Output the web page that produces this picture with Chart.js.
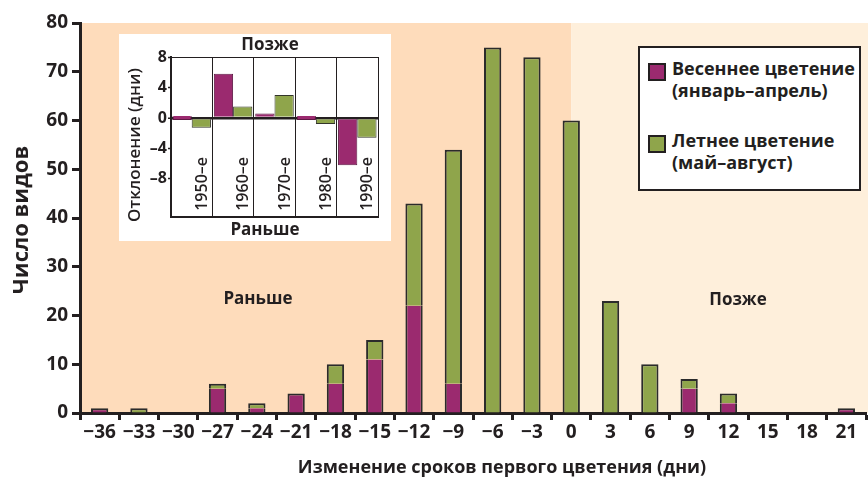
<!DOCTYPE html>
<html>
<head>
<meta charset="utf-8">
<script src="https://cdn.jsdelivr.net/npm/chart.js@4"></script>
<style>
  body { margin: 0; background: #fff; }
  #wrap { position: relative; width: 868px; height: 478px; }
  #mainChart { position: absolute; left: 0; top: 0; }
  #insetBox { position: absolute; left: 119px; top: 34px; width: 272px; height: 207px; background: #fff; }
  #legendBox {
    position: absolute; left: 638px; top: 46px; width: 219px; height: 141px;
    border: 2px solid #231f20; background: #fff;
    font-family: 'Open Sans', sans-serif; font-weight: 700; font-size: 18px; color: #231f20;
  }
  .item { position: absolute; left: 8px; }
  .sw { position: absolute; left: 0; top: 0; width: 14px; height: 14px; border: 2px solid #231f20; }
  .txt { position: absolute; left: 24px; top: -6px; line-height: 22px; white-space: nowrap; }
</style>
</head>
<body>
<div id="wrap">
  <canvas id="mainChart" width="868" height="478"></canvas>
  <div id="insetBox"><canvas id="insetChart" width="272" height="207"></canvas></div>
  <div id="legendBox"></div>
</div>
<script>
// main histogram
const shiftLabels = ['−36', '−33', '−30', '−27', '−24', '−21', '−18', '−15', '−12', '−9', '−6', '−3', '0', '3', '6', '9', '12', '15', '18', '21'];
const springCounts = [1, 0, 0, 5, 1, 4, 6, 11, 22, 6, 0, 0, 0, 0, 0, 5, 2, 0, 0, 1];
const summerCounts = [0, 1, 0, 1, 1, 0, 4, 4, 21, 48, 75, 73, 60, 23, 10, 2, 2, 0, 0, 0];
const seriesNames = ['Весеннее цветение', 'Летнее цветение'];
const seriesMonths = ['(январь–апрель)', '(май–август)'];

// inset: deviation by decade
const decades = ['1950–е', '1960–е', '1970–е', '1980–е', '1990–е'];
const springDev = [0, 5.8, 0.6, 0, -6.2];
const summerDev = [-1.3, 1.5, 3.0, -0.8, -2.6];

const purple = '#9b2a6f';
const green = '#8fa54b';
const ink = '#231f20';
const font = "'Open Sans', sans-serif";

let legendBox = document.getElementById('legendBox');
let colors = [purple, green];
let tops = [15, 87];
for (let i = 0; i < seriesNames.length; i++) {
  legendBox.innerHTML += `<div class="item" style="top:${tops[i]}px"><div class="sw" style="background:${colors[i]}"></div>` +
    `<div class="txt">${seriesNames[i]}<br>${seriesMonths[i]}</div></div>`;
}

const mainDecor = {
  id: 'mainDecor',
  beforeDraw(chart) {
    const { ctx, chartArea: a, scales } = chart;
    const xZero = scales.x.getPixelForValue(shiftLabels.indexOf('0'));
    ctx.save();
    ctx.fillStyle = '#fedcbb';
    ctx.fillRect(a.left, a.top, xZero - a.left, a.bottom - a.top);
    ctx.fillStyle = '#feefdb';
    ctx.fillRect(xZero, a.top, chart.width - xZero, a.bottom - a.top);
    ctx.restore();
  },
  afterDraw(chart) {
    const ctx = chart.ctx;
    ctx.save();
    ctx.fillStyle = ink;
    ctx.textAlign = 'center';
    ctx.textBaseline = 'middle';
    ctx.font = `bold 17px ${font}`;
    ctx.fillText('Раньше', 258, 299);
    ctx.fillText('Позже', 738, 300);
    ctx.font = `bold 18px ${font}`;
    ctx.fillText('Изменение сроков первого цветения (дни)', 502, 468);
    ctx.font = `bold 22px ${font}`;
    ctx.translate(22, 220);
    ctx.rotate(-Math.PI / 2);
    ctx.fillText('Число видов', 0, 0);
    ctx.restore();
  }
};

let mainChart = new Chart(document.getElementById('mainChart').getContext('2d'), {
  type: 'bar',
  data: {
    labels: shiftLabels,
    datasets: [{
      label: seriesNames[0],
      data: springCounts,
      backgroundColor: purple,
      borderColor: '#2b2b2b',
      borderSkipped: false,
      borderWidth: (c) => ({ left: 2, right: 2, bottom: 0, top: summerCounts[c.dataIndex] > 0 ? 0 : 2 })
    }, {
      label: seriesNames[1],
      data: summerCounts,
      backgroundColor: green,
      borderColor: '#2b2b2b',
      borderSkipped: false,
      borderWidth: { left: 2, right: 2, bottom: 0, top: 2 }
    }]
  },
  options: {
    responsive: false,
    animation: false,
    layout: { padding: { top: 23, right: 2, left: 0, bottom: 0 } },
    datasets: { bar: { barPercentage: 0.44, categoryPercentage: 1 } },
    plugins: { legend: { display: false }, tooltip: { enabled: false } },
    scales: {
      x: {
        stacked: true,
        afterFit(scale) { scale.height = 65; },
        border: { display: true, color: ink, width: 3 },
        grid: { offset: true, drawOnChartArea: false, tickLength: 7, tickWidth: 3, tickColor: ink },
        ticks: { color: ink, font: { family: font, weight: 'bold', size: 19 }, padding: 1, maxRotation: 0, autoSkip: false }
      },
      y: {
        stacked: true,
        min: 0,
        max: 80,
        afterFit(scale) { scale.width = 80; },
        border: { display: true, color: ink, width: 3 },
        grid: { drawOnChartArea: false, tickLength: 8, tickWidth: 3, tickColor: ink },
        ticks: { stepSize: 10, color: ink, font: { family: font, weight: 'bold', size: 19 }, padding: 4 }
      }
    }
  },
  plugins: [mainDecor]
});

const insetDecor = {
  id: 'insetDecor',
  afterDraw(chart) {
    const ctx = chart.ctx;
    const meta = chart.getDatasetMeta(1);
    ctx.save();
    ctx.fillStyle = ink;
    ctx.textAlign = 'center';
    ctx.textBaseline = 'middle';
    ctx.font = `bold 17px ${font}`;
    ctx.fillText('Позже', 151, 11);
    ctx.fillText('Раньше', 146, 196);
    ctx.font = `600 17px ${font}`;
    ctx.save();
    ctx.translate(16, 111);
    ctx.rotate(-Math.PI / 2);
    ctx.fillText('Отклонение (дни)', 0, 0);
    ctx.restore();
    ctx.font = `600 16px ${font}`;
    ctx.textAlign = 'right';
    meta.data.forEach((bar, i) => {
      ctx.save();
      ctx.translate(bar.x + 1, 123);
      ctx.rotate(-Math.PI / 2);
      ctx.fillText(decades[i], 0, 0);
      ctx.restore();
    });
    ctx.restore();
  }
};

let insetChart = new Chart(document.getElementById('insetChart').getContext('2d'), {
  type: 'bar',
  data: {
    labels: decades,
    datasets: [{
      data: springDev,
      backgroundColor: purple,
      borderColor: '#5e1a44',
      borderWidth: 1,
      minBarLength: 4
    }, {
      data: summerDev,
      backgroundColor: green,
      borderColor: '#33352a',
      borderWidth: 1
    }]
  },
  options: {
    responsive: false,
    animation: false,
    layout: { padding: { top: 23, right: 13, left: 0, bottom: 0 } },
    datasets: { bar: { barPercentage: 1, categoryPercentage: 0.93 } },
    plugins: { legend: { display: false }, tooltip: { enabled: false } },
    scales: {
      x: {
        afterFit(scale) { scale.height = 24; },
        border: { display: true, color: ink, width: 2 },
        grid: { offset: true, color: ink, lineWidth: 1, drawTicks: false },
        ticks: { display: false }
      },
      y: {
        min: -13,
        max: 8,
        afterFit(scale) { scale.width = 52; },
        afterBuildTicks(scale) { scale.ticks = [-8, -4, 0, 4, 8].map(v => ({ value: v })); },
        border: { display: true, color: ink, width: 2 },
        grid: {
          color: (c) => (c.tick && (c.tick.value === 0 || c.tick.value === 8)) ? ink : 'rgba(0,0,0,0)',
          lineWidth: (c) => (c.tick && c.tick.value === 0) ? 2.5 : 1,
          tickColor: ink, tickLength: 3, tickWidth: 1.5
        },
        ticks: {
          color: ink, padding: 1,
          font: { family: font, weight: 'bold', size: 16 },
          callback: (v) => String(v).replace('-', '–')
        }
      }
    }
  },
  plugins: [insetDecor]
});
</script>
</body>
</html>
